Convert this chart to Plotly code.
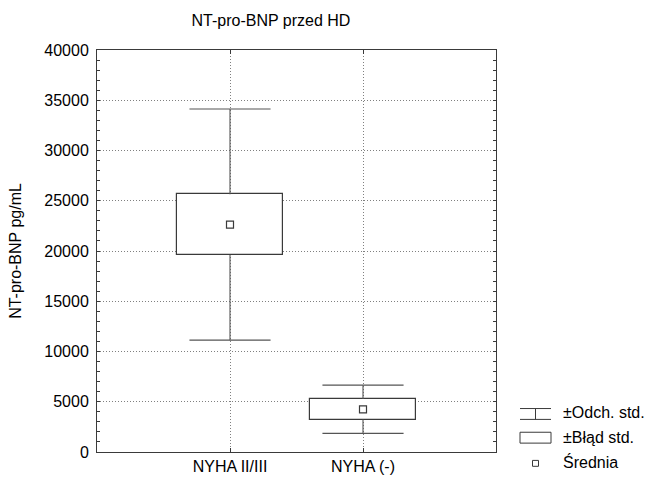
import plotly.graph_objects as go

# Summary statistics per NYHA group
groups = ["NYHA II/III", "NYHA (-)"]
means = [22630, 4250]
std_err = [3020, 1020]
std_dev = [11500, 2400]

x_pos = [1, 2]
BOX_HALF = 0.4
CAP_HALF = 0.305
LINE = "#3a3a3a"
GRID = "#808080"
FONT = "Liberation Sans, Arial, sans-serif"

W, H = 649, 487
L, R, T, B = 97, 153, 50, 30

fig = go.Figure()

# Whiskers (mean ± SD) with caps, drawn outside the box
wx, wy = [], []
for x, m, se, sd in zip(x_pos, means, std_err, std_dev):
    wx += [x, x, None, x, x, None,
           x - CAP_HALF, x + CAP_HALF, None, x - CAP_HALF, x + CAP_HALF, None]
    wy += [m + se, m + sd, None, m - se, m - sd, None,
           m + sd, m + sd, None, m - sd, m - sd, None]
fig.add_trace(go.Scatter(x=wx, y=wy, mode="lines",
                         line=dict(color="#555555", width=1.1),
                         hoverinfo="skip", showlegend=False))

# Boxes (mean ± SE)
fig.add_trace(go.Bar(x=x_pos, y=[2 * se for se in std_err],
                     base=[m - se for m, se in zip(means, std_err)],
                     width=2 * BOX_HALF,
                     marker=dict(color="white", line=dict(color=LINE, width=1.2)),
                     showlegend=False))

# Means
fig.add_trace(go.Scatter(x=x_pos, y=means, mode="markers",
                         marker=dict(symbol="square-open", size=7,
                                     color=LINE, line=dict(width=1.2)),
                         showlegend=False))

# Hand-drawn legend to the right of the plot area
def px(xp):
    return (xp - L) / (W - L - R)

def py(yp):
    return (H - B - yp) / (H - T - B)

shapes = []
leg_line = dict(color=LINE, width=1)
for x0, y0, x1, y1 in [(520, 413, 551, 413), (535.5, 413, 535.5, 424),
                       (520, 424, 551, 424)]:
    shapes.append(dict(type="line", xref="paper", yref="paper",
                       x0=px(x0), y0=py(y0), x1=px(x1), y1=py(y1), line=leg_line))
shapes.append(dict(type="rect", xref="paper", yref="paper",
                   x0=px(520), y0=py(437), x1=px(551), y1=py(448), line=leg_line))
shapes.append(dict(type="rect", xref="paper", yref="paper",
                   x0=px(532.5), y0=py(465.5), x1=px(538.5), y1=py(471.5), line=leg_line))

annotations = []
for text, yc in [("±Odch. std.", 417), ("±Błąd std.", 442), ("Średnia", 467)]:
    annotations.append(dict(text=text, xref="paper", yref="paper",
                            x=px(561), y=py(yc), xanchor="left", yanchor="middle",
                            showarrow=False, font=dict(size=16, color="black", family=FONT)))

fig.update_layout(
    width=W, height=H,
    margin=dict(l=L, r=R, t=T, b=B),
    paper_bgcolor="white", plot_bgcolor="white",
    font=dict(family=FONT, size=16, color="black"),
    title=dict(text="NT-pro-BNP przed HD", x=271 / W, xanchor="center",
               y=1 - 20 / H, yanchor="middle", font=dict(size=16, color="black")),
    shapes=shapes, annotations=annotations,
    bargap=0,
    xaxis=dict(range=[0, 3], tickvals=x_pos, ticktext=groups,
               showline=True, linecolor=LINE, linewidth=1, mirror="ticks",
               ticks="inside", ticklen=4, tickcolor=LINE,
               showgrid=True, gridcolor=GRID, griddash="1px,2px", gridwidth=1,
               zeroline=False, tickfont=dict(size=16)),
    yaxis=dict(range=[0, 40000], dtick=5000, tickformat="d",
               showline=True, linecolor=LINE, linewidth=1, mirror="ticks",
               ticks="inside", ticklen=3, tickcolor=LINE,
               minor=dict(dtick=1000, ticks="inside", ticklen=3, tickcolor=LINE),
               showgrid=True, gridcolor=GRID, griddash="1px,2px", gridwidth=1,
               zeroline=False, tickfont=dict(size=16), ticklabelstandoff=4,
               title=dict(text="NT-pro-BNP pg/mL", standoff=18, font=dict(size=16))),
)

fig.write_html("out.html")
